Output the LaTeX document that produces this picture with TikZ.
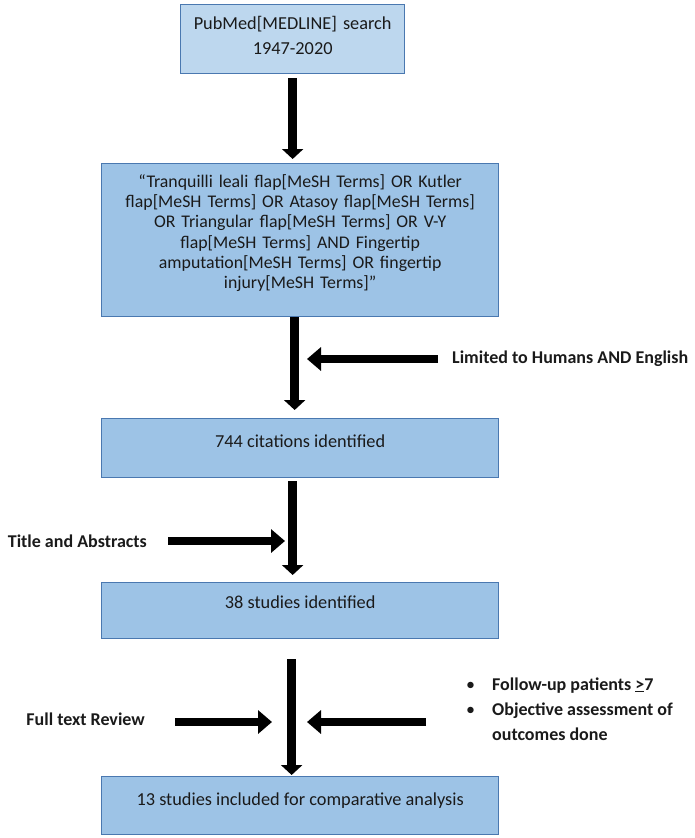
\documentclass[tikz,border=0pt]{standalone}
\usepackage{fontspec}
\setmainfont{Carlito}
\usetikzlibrary{arrows.meta}
\definecolor{boxA}{HTML}{BDD7EE}
\definecolor{boxB}{HTML}{9DC3E6}
\definecolor{boxline}{HTML}{4A78B0}
\definecolor{txt}{HTML}{1A1A1A}
\begin{document}
\begin{tikzpicture}[x=1pt,y=-1pt,
 box/.style={draw=boxline, line width=1.3pt, fill=boxB, anchor=north west, inner sep=0pt, align=center, font=\fontsize{18.3}{22}\selectfont, text=txt},
 flow/.style={line width=8.5pt, draw=black, -{Triangle[width=21pt,length=10pt]}},
 side/.style={line width=8pt, draw=black, -{Triangle[width=23pt,length=14pt]}},
 lab/.style={font=\fontsize{18}{22}\selectfont\bfseries, text=txt, inner sep=0pt}
]
\useasboundingbox (0,0) rectangle (694,838);

\node[box, fill=boxA, minimum width=224pt, minimum height=69pt, text width=215pt, text depth=32pt,
      font=\fontsize{18.3}{25}\selectfont] (b1) at (180,4) {PubMed[MEDLINE] search\\1947-2020};
\node[box, minimum width=397pt, minimum height=153pt, text width=390pt, text depth=118pt,
      font=\fontsize{17.8}{20.2}\selectfont] (b2) at (101,163)
 {“Tranquilli leali flap[MeSH Terms] OR Kutler\\flap[MeSH Terms] OR Atasoy flap[MeSH Terms]\\OR Triangular flap[MeSH Terms] OR V-Y\\flap[MeSH Terms] AND Fingertip\\amputation[MeSH Terms] OR fingertip\\injury[MeSH Terms]”};
\node[box, minimum width=397pt, minimum height=59pt, text depth=14pt] (b3) at (101,418) {744 citations identified};
\node[box, minimum width=397pt, minimum height=56pt, text depth=17pt] (b4) at (101,582) {38 studies identified};
\node[box, minimum width=397pt, minimum height=58pt, text depth=13pt] (b5) at (101,776) {13 studies included for comparative analysis};

% main flow arrows
\draw[flow] ([yshift=-4pt]b1.south) -- ([yshift=4pt]b1.south |- b2.north);
\draw[flow] ([xshift=-5.5pt]b2.south) -- ([xshift=-5.5pt,yshift=8pt]b2.south |- b3.north);
\draw[flow] ([xshift=-7.5pt,yshift=-3pt]b3.south) -- ([xshift=-7.5pt,yshift=7pt]b3.south |- b4.north);
\draw[flow] ([xshift=-8.5pt,yshift=-20pt]b4.south) -- ([xshift=-8.5pt,yshift=1pt]b4.south |- b5.north);

% side labels
\node[lab, anchor=west] (lim) at (452,359) {Limited to Humans AND English};
\coordinate (limend) at (307,359);
\draw[side] ([xshift=-14pt]lim.west) -- (limend);

\node[lab, anchor=east] (tit) at (147,541) {Title and Abstracts};
\coordinate (titend) at (285,541);
\draw[side] ([xshift=21pt]tit.east) -- (titend);

\node[lab, anchor=east] (full) at (145,719) {Full text Review};
\coordinate (fullend) at (272,722);
\draw[side] ([xshift=30pt,yshift=-3pt]full.east) -- (fullend);

\node[lab, anchor=west, align=left, font=\fontsize{18}{25}\selectfont\bfseries] (crit) at (466,710)
 {\begin{tabular}{@{}l@{\hspace{17pt}}l@{}}\textmd{\textbullet} & Follow-up patients \underline{>}7\\[0pt]
  \textmd{\textbullet} & Objective assessment of\\ & outcomes done\end{tabular}};
\coordinate (critend) at (307,722);
\draw[side] (426,722) -- (critend);
\end{tikzpicture}
\end{document}
